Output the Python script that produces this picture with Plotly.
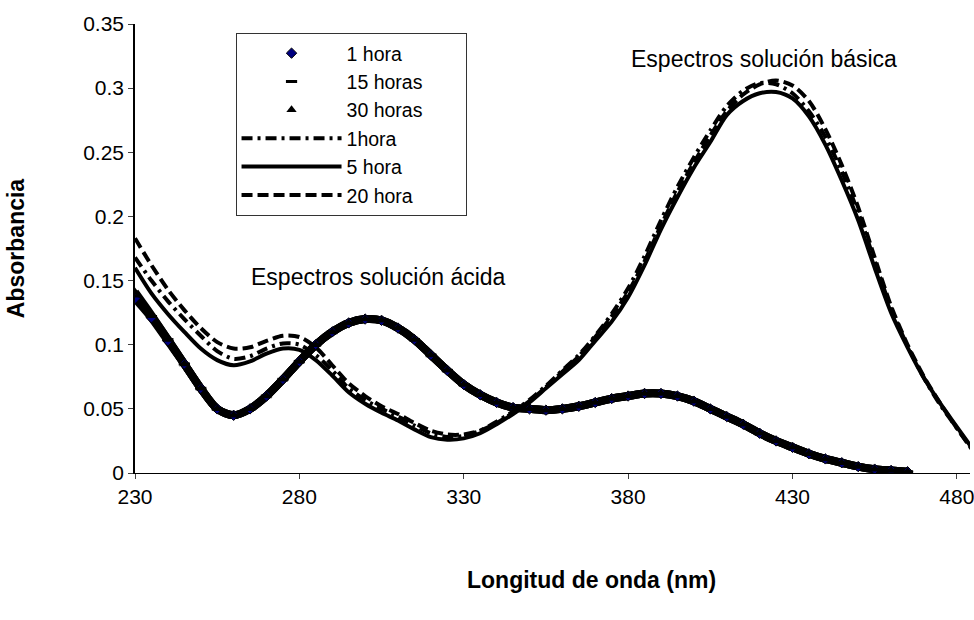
import plotly.graph_objects as go

# ---------------- data ----------------
wl_acid = [230, 235, 240, 245, 250, 255, 260, 265, 270, 275, 280, 285, 290, 295, 300,
           305, 310, 315, 320, 325, 330, 335, 340, 345, 350, 355, 360, 365, 370, 375,
           380, 385, 390, 395, 400, 405, 410, 415, 420, 425, 430, 435, 440, 445, 450,
           455, 460, 465]
acid_1h = [0.136, 0.121, 0.103, 0.085, 0.066, 0.050, 0.045, 0.050, 0.060, 0.073, 0.087, 0.100,
           0.110, 0.117, 0.120, 0.119, 0.113, 0.104, 0.092, 0.080, 0.069, 0.061, 0.055, 0.051,
           0.050, 0.049, 0.050, 0.052, 0.055, 0.058, 0.060, 0.062, 0.062, 0.060, 0.056, 0.050,
           0.044, 0.038, 0.031, 0.025, 0.020, 0.015, 0.011, 0.008, 0.005, 0.003, 0.002, 0.001]
acid_15h = [0.138, 0.122, 0.104, 0.085, 0.066, 0.050, 0.045, 0.050, 0.060, 0.073, 0.087, 0.100,
            0.110, 0.117, 0.120, 0.119, 0.113, 0.104, 0.092, 0.080, 0.069, 0.061, 0.055, 0.051,
            0.050, 0.049, 0.050, 0.052, 0.055, 0.058, 0.060, 0.062, 0.062, 0.060, 0.056, 0.050,
            0.044, 0.038, 0.031, 0.025, 0.020, 0.015, 0.011, 0.008, 0.005, 0.003, 0.002, 0.001]
acid_30h = [0.141, 0.123, 0.104, 0.085, 0.066, 0.050, 0.045, 0.050, 0.060, 0.073, 0.087, 0.100,
            0.110, 0.117, 0.120, 0.119, 0.113, 0.104, 0.092, 0.080, 0.069, 0.061, 0.055, 0.051,
            0.050, 0.049, 0.050, 0.052, 0.055, 0.058, 0.060, 0.062, 0.062, 0.060, 0.056, 0.050,
            0.044, 0.038, 0.031, 0.025, 0.020, 0.015, 0.011, 0.008, 0.005, 0.003, 0.002, 0.001]

wl_basic = [230, 235, 240, 245, 250, 255, 260, 265, 270, 275, 280, 285, 290, 295, 300,
            305, 310, 315, 320, 325, 330, 335, 340, 345, 350, 355, 360, 365, 370, 375,
            380, 385, 390, 395, 400, 405, 410, 415, 420, 425, 430, 435, 440, 445, 450,
            455, 460, 465, 470, 475, 480, 485]
basic_1h = [0.168, 0.150, 0.134, 0.120, 0.107, 0.095, 0.089, 0.091, 0.097, 0.101, 0.100, 0.092,
            0.080, 0.066, 0.057, 0.050, 0.044, 0.037, 0.031, 0.028, 0.029, 0.033, 0.040, 0.048,
            0.057, 0.068, 0.080, 0.092, 0.107, 0.124, 0.144, 0.169, 0.197, 0.223, 0.246, 0.267,
            0.286, 0.298, 0.304, 0.303, 0.296, 0.282, 0.262, 0.235, 0.203, 0.165, 0.128, 0.099,
            0.074, 0.053, 0.035, 0.017]
basic_5h = [0.160, 0.140, 0.124, 0.110, 0.097, 0.088, 0.084, 0.087, 0.093, 0.097, 0.096, 0.088,
            0.076, 0.063, 0.054, 0.047, 0.041, 0.034, 0.028, 0.026, 0.027, 0.031, 0.038, 0.046,
            0.055, 0.066, 0.077, 0.088, 0.103, 0.118, 0.137, 0.162, 0.190, 0.215, 0.238, 0.258,
            0.279, 0.290, 0.296, 0.297, 0.292, 0.278, 0.256, 0.228, 0.197, 0.160, 0.125, 0.098,
            0.074, 0.054, 0.036, 0.018]
basic_20h = [0.183, 0.162, 0.143, 0.127, 0.113, 0.102, 0.097, 0.098, 0.103, 0.107, 0.106, 0.098,
             0.084, 0.070, 0.060, 0.052, 0.046, 0.039, 0.033, 0.030, 0.030, 0.033, 0.039, 0.047,
             0.056, 0.067, 0.079, 0.091, 0.106, 0.122, 0.141, 0.165, 0.193, 0.219, 0.242, 0.263,
             0.282, 0.295, 0.303, 0.306, 0.302, 0.290, 0.268, 0.240, 0.207, 0.168, 0.130, 0.100,
             0.075, 0.054, 0.035, 0.017]

x_ticks = [230, 280, 330, 380, 430, 480]
y_ticks = [0, 0.05, 0.1, 0.15, 0.2, 0.25, 0.3, 0.35]
y_tick_text = ["0", "0.05", "0.1", "0.15", "0.2", "0.25", "0.3", "0.35"]

FONT = "Liberation Sans, Arial, sans-serif"
PAD = "\u00a0" * 7  # legend box in the original is wider than its longest label

fig = go.Figure()

# thick band formed by the dense acid-solution markers
for ys in (acid_1h, acid_15h, acid_30h):
    fig.add_trace(go.Scatter(x=wl_acid, y=ys, mode="lines", showlegend=False,
                             line=dict(color="black", width=8, shape="spline", smoothing=0.8),
                             hoverinfo="skip"))

fig.add_trace(go.Scatter(x=wl_acid, y=acid_1h, mode="markers", name="1 hora",
                         marker=dict(symbol="diamond", size=8, color="#000080",
                                     line=dict(color="black", width=1))))
fig.add_trace(go.Scatter(x=wl_acid, y=acid_15h, mode="markers", name="15 horas" + PAD,
                         marker=dict(symbol="line-ew", size=8,
                                     line=dict(color="black", width=3))))
fig.add_trace(go.Scatter(x=wl_acid, y=acid_30h, mode="markers", name="30 horas",
                         marker=dict(symbol="triangle-up", size=9, color="black")))

fig.add_trace(go.Scatter(x=wl_basic, y=basic_1h, mode="lines", name="1hora",
                         line=dict(color="black", width=4, dash="11px,5px,3px,5px",
                                   shape="spline", smoothing=0.8)))
fig.add_trace(go.Scatter(x=wl_basic, y=basic_5h, mode="lines", name="5 hora",
                         line=dict(color="black", width=4, shape="spline", smoothing=0.8)))
fig.add_trace(go.Scatter(x=wl_basic, y=basic_20h, mode="lines", name="20 hora",
                         line=dict(color="black", width=4, dash="11px,5px",
                                   shape="spline", smoothing=0.8)))

fig.add_annotation(x=264.8, y=0.153, xref="x", yref="y", text="Espectros solución ácida",
                   showarrow=False, xanchor="left", yanchor="middle",
                   font=dict(size=23, color="black", family=FONT))
fig.add_annotation(x=462.4, y=0.323, xref="x", yref="y", text="Espectros solución básica",
                   showarrow=False, xanchor="right", yanchor="middle",
                   font=dict(size=23, color="black", family=FONT))
# x-axis title
fig.add_annotation(x=0.547, y=-0.238, xref="paper", yref="paper",
                   text="<b>Longitud de onda (nm)</b>", showarrow=False,
                   xanchor="center", yanchor="middle",
                   font=dict(size=23, color="black", family=FONT))

fig.update_layout(
    width=974, height=620,
    margin=dict(l=135, r=0, t=24, b=147),
    paper_bgcolor="white", plot_bgcolor="white",
    font=dict(family=FONT, size=21, color="black"),
    showlegend=True,
    legend=dict(x=0.1204, y=0.98, xanchor="left", yanchor="top",
                bordercolor="#333333", borderwidth=1, bgcolor="white",
                font=dict(size=19.5, family=FONT), tracegroupgap=0,
                itemwidth=100),
    xaxis=dict(range=[230, 484], tickmode="array", tickvals=x_ticks,
               showgrid=False, zeroline=False, showline=True, linecolor="black", linewidth=1,
               ticks="outside", ticklen=5, tickcolor="#404040",
               ticklabeloverflow="allow",
               tickfont=dict(size=21, family=FONT)),
    yaxis=dict(range=[0, 0.35], tickmode="array", tickvals=y_ticks, ticktext=y_tick_text,
               showgrid=False, zeroline=False, showline=True, linecolor="black", linewidth=1.5,
               ticks="outside", ticklen=5, tickcolor="#404040",
               tickfont=dict(size=21, family=FONT),
               title=dict(text="<b>Absorbancia</b>", standoff=52,
                          font=dict(size=23, family=FONT))),
)

fig.write_html("out.html", config={"displayModeBar": False},
               post_script="document.body.style.margin='0';")
